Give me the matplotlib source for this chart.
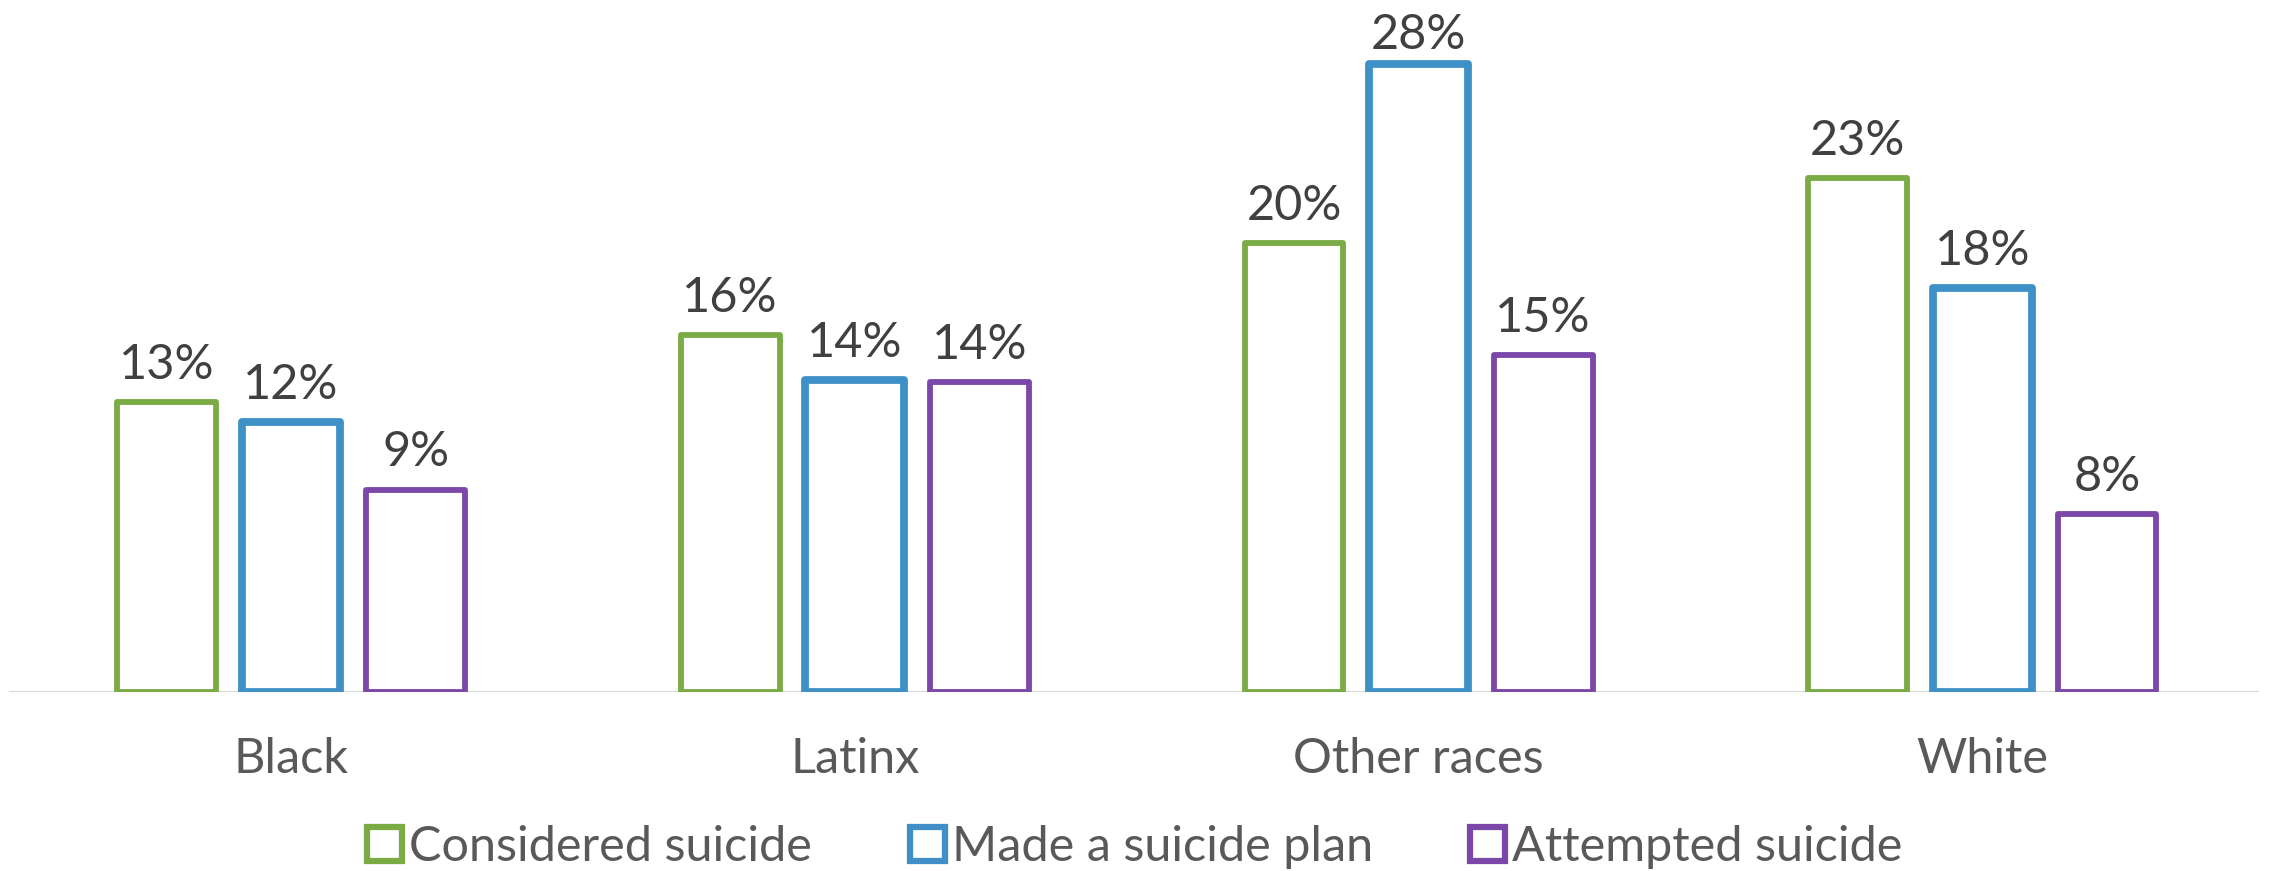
import numpy as np
import matplotlib.pyplot as plt
from matplotlib.patches import Rectangle

plt.rcParams['font.family'] = ['Lato', 'DejaVu Sans']

# data
groups = ['Black', 'Latinx', 'Other races', 'White']
series = ['Considered suicide', 'Made a suicide plan', 'Attempted suicide']
considered = [12.9, 15.9, 20.0, 22.9]
plan = [12.0, 13.9, 28.0, 18.0]
attempted = [9.0, 13.8, 15.0, 7.9]

colors = ['#7AAB45', '#3F90C6', '#7B47A8']
widths = [4.2, 5.6, 4.2]

fig = plt.figure(figsize=(22.7, 8.71), dpi=100)
ax = fig.add_axes([0.004, 0.206, 0.991, 0.794])
ymax = 30.84
ax.set_ylim(0, ymax)

# points per data unit, to keep labels inside the figure like Excel does
pts_per_unit = 0.794 * 8.71 * 72 / ymax

x = np.arange(len(groups))
bw = 0.175
pitch = 0.221
for i, vals in enumerate([considered, plan, attempted]):
    pos = x + (i - 1) * pitch
    bars = ax.bar(pos, vals, width=bw, facecolor='white', edgecolor=colors[i],
                  linewidth=widths[i], joinstyle='round', zorder=3)
    for b, v in zip(bars, vals):
        room = (ymax - v) * pts_per_unit - 41
        off = min(11, room)
        ax.annotate('%d%%' % round(v), (b.get_x() + b.get_width() / 2, v),
                    xytext=(0, off), textcoords='offset points',
                    ha='center', va='bottom', fontsize=35, color='#404040',
                    annotation_clip=False)

ax.set_xlim(-0.5, 3.49)
ax.axhline(0, color='#D9D9D9', linewidth=2.2, zorder=2)
for s in ax.spines.values():
    s.set_visible(False)
ax.set_yticks([])
ax.set_xticks(x)
ax.set_xticklabels(groups, fontsize=35, color='#595959')
ax.tick_params(axis='x', length=0, pad=33)

handles = [Rectangle((0, 0), 1, 1, facecolor='white', edgecolor=c, linewidth=4.5)
           for c in colors]
fig.legend(handles, series, loc='lower center', bbox_to_anchor=(0.5, -0.048),
           ncol=3, frameon=False, fontsize=35, labelcolor='#595959',
           handlelength=0.72, handleheight=0.72, handletextpad=0.15,
           columnspacing=2.0)

fig.savefig('out.png', dpi=100)
